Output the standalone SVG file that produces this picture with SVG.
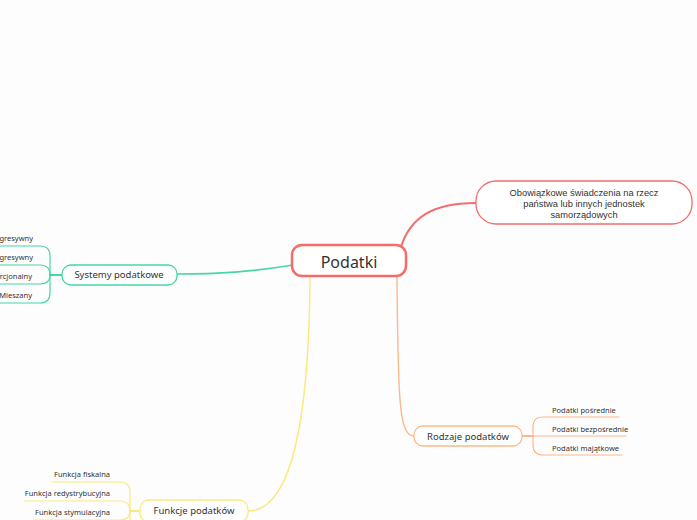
<svg xmlns="http://www.w3.org/2000/svg" width="697" height="520" viewBox="0 0 697 520">
<style>
text{font-family:"Noto Sans","Liberation Sans",sans-serif;fill:#333;}
.main{font-size:16px;text-anchor:middle;}
.sub{font-size:9.5px;text-anchor:middle;}
.def{font-family:"Liberation Sans","Noto Sans",sans-serif;font-size:9.3px;text-anchor:middle;}
.leaf{font-size:7.5px;}
.end{text-anchor:end;}
.c{fill:none;stroke-linecap:round;}
.red{stroke:#f46d6d;}
.grn{stroke:#47d6a6;}
.yel{stroke:#f9ea7c;}
.org{stroke:#fdb98a;}
</style>
<rect width="697" height="520" fill="#fdfdfd"/>
<g id="connectors">
<path class="c red" stroke-width="2" d="M 401 247 C 410 218, 432 203, 476 203"/>
<path class="c grn" stroke-width="1.6" d="M 293 265 C 250 272, 220 274, 177 274"/>
<path class="c org" stroke-width="1.4" d="M 397 277 C 398 400, 399 436, 414 436"/>
<path class="c yel" stroke-width="1.4" d="M 310 277 C 309 420, 292 511, 248 511"/>
<g class="c grn" stroke-width="1.2">
<path d="M 62 275 H 50" stroke-width="2"/>
<path d="M 50 275 V 256 Q 50 246 40 246 H 0"/>
<path d="M 50 275 Q 50 265 40 265 H 0"/>
<path d="M 50 275 Q 50 284 40 284 H 0"/>
<path d="M 50 275 V 293 Q 50 303 40 303 H 0"/>
</g>
<g class="c org" stroke-width="1.2">
<path d="M 522 436 H 533" stroke-width="2"/>
<path d="M 533 436 H 626"/>
<path d="M 533 436 V 427 Q 533 417 543 417 H 619"/>
<path d="M 533 436 V 445 Q 533 455 543 455 H 622"/>
</g>
<g class="c yel" stroke-width="1.2">
<path d="M 140 511 H 130" stroke-width="2"/>
<path d="M 130 511 V 492 Q 130 482 120 482 H 52"/>
<path d="M 130 511 Q 130 501 120 501 H 24"/>
<path d="M 130 511 Q 130 520 120 520 H 33"/>
<path d="M 130 511 V 521"/>
</g>
</g>
<g id="podatki">
<rect x="292" y="245" width="114" height="31" rx="10" fill="#fff" stroke="#f46d6d" stroke-width="2.5"/>
<text class="main" x="349" y="268">Podatki</text>
</g>
<g id="definicja">
<rect x="476" y="181" width="216" height="43" rx="20" fill="#fff" stroke="#f46d6d" stroke-width="1.3"/>
<text class="def" x="584" y="196">Obowiązkowe świadczenia na rzecz</text>
<text class="def" x="584" y="207">państwa lub innych jednostek</text>
<text class="def" x="584" y="218">samorządowych</text>
</g>
<g id="systemy">
<rect x="62" y="265" width="115" height="20" rx="9" fill="#fff" stroke="#47d6a6" stroke-width="1.3"/>
<text class="sub" x="119" y="278">Systemy podatkowe</text>
</g>
<g id="sys-1"><text class="leaf end" x="33" y="241">gresywny</text></g>
<g id="sys-2"><text class="leaf end" x="33" y="260">gresywny</text></g>
<g id="sys-3"><text class="leaf end" x="32" y="279">rcjonalny</text></g>
<g id="sys-4"><text class="leaf end" x="32" y="298">Mieszany</text></g>
<g id="rodzaje">
<rect x="414" y="426" width="108" height="20" rx="9" fill="#fff" stroke="#fdb98a" stroke-width="1.3"/>
<text class="sub" x="468" y="440">Rodzaje podatków</text>
</g>
<g id="rodz-1"><text class="leaf" x="552" y="413">Podatki pośrednie</text></g>
<g id="rodz-2"><text class="leaf" x="552" y="432">Podatki bezpośrednie</text></g>
<g id="rodz-3"><text class="leaf" x="552" y="451">Podatki majątkowe</text></g>
<g id="funkcje">
<rect x="140" y="500" width="108" height="22" rx="9" fill="#fff" stroke="#f9ea7c" stroke-width="1.3"/>
<text class="sub" x="194" y="514">Funkcje podatków</text>
</g>
<g id="fun-1"><text class="leaf end" x="110" y="477">Funkcja fiskalna</text></g>
<g id="fun-2"><text class="leaf end" x="110" y="496">Funkcja redystrybucyjna</text></g>
<g id="fun-3"><text class="leaf end" x="110" y="515">Funkcja stymulacyjna</text></g>
</svg>
